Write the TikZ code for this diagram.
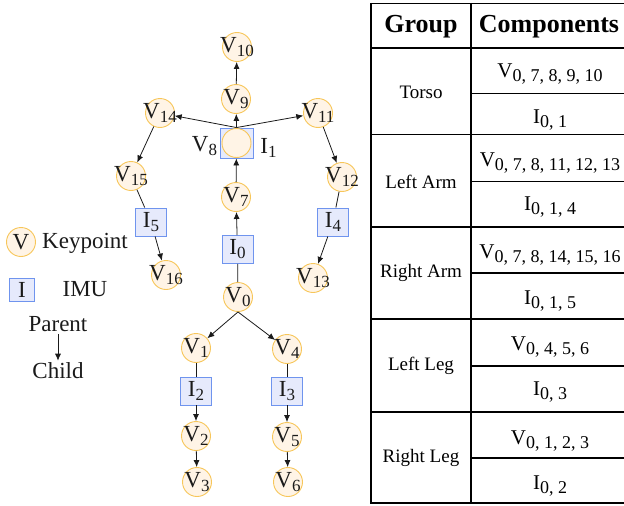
\documentclass[tikz,border=0pt]{standalone}
\usepackage{fontspec}
\setmainfont{Liberation Serif}
\usetikzlibrary{arrows.meta}

\definecolor{kpfill}{HTML}{FFF4E6}
\definecolor{kpline}{HTML}{F7C65A}
\definecolor{imufill}{HTML}{E6EAFC}
\definecolor{imuline}{HTML}{6F94EE}
\definecolor{inkline}{HTML}{1A1A1A}

% lowered index for node labels and table entries
\newcommand\lsub[1]{\raisebox{-4pt}{\fontsize{17}{17}\selectfont #1}}
\newcommand\tsub[1]{\raisebox{-4pt}{\fontsize{18}{18}\selectfont #1}}

\begin{document}
\begin{tikzpicture}[x=1pt,y=-1pt,
  kp/.style={circle, draw=kpline, fill=kpfill, line width=0.9pt,
    minimum size=29pt, inner sep=0pt},
  kplab/.style={font=\fontsize{23}{23}\selectfont, inner sep=0pt, text=inkline},
  imu/.style={rectangle, draw=imuline, fill=imufill, line width=0.9pt,
    minimum width=31pt, minimum height=28pt, inner sep=0pt,
    font=\fontsize{23}{23}\selectfont, text=inkline},
  txt/.style={font=\fontsize{23}{23}\selectfont, inner sep=2pt, text=inkline},
  arr/.style={draw=inkline, line width=0.8pt, -{Latex[length=7pt,width=6pt]}},
  link/.style={draw=inkline, line width=0.8pt},
  tab/.style={line width=1.3pt, draw=black},
  thead/.style={font=\fontsize{26}{26}\selectfont\bfseries, inner sep=0pt},
  tgroup/.style={font=\fontsize{19}{19}\selectfont, inner sep=0pt},
  tcell/.style={font=\fontsize{21}{21}\selectfont, inner sep=0pt}
]
\useasboundingbox (0,0) rectangle (624,506);

% ---------- skeleton: keypoints ----------
\node[kp, label={[kplab]center:V\lsub{10}}] (v10) at (237,47) {};
\node[kp, label={[kplab]center:V\lsub{9}}]  (v9)  at (236,99) {};
\node[kp, label={[kplab]center:V\lsub{14}}] (v14) at (160,113) {};
\node[kp, label={[kplab]center:V\lsub{11}}] (v11) at (318,113) {};
\node[kp, label={[kplab]center:V\lsub{15}}] (v15) at (131,176) {};
\node[kp, label={[kplab]center:V\lsub{12}}] (v12) at (342,177) {};
\node[kp, label={[kplab]center:V\lsub{7}}]  (v7)  at (236,197) {};
\node[kp, label={[kplab]center:V\lsub{16}}] (v16) at (166,275) {};
\node[kp, label={[kplab]center:V\lsub{13}}] (v13) at (313,278) {};
\node[kp, label={[kplab]center:V\lsub{0}}]  (v0)  at (238,297) {};
\node[kp, label={[kplab]center:V\lsub{1}}]  (v1)  at (196,348) {};
\node[kp, label={[kplab]center:V\lsub{4}}]  (v4)  at (287,349) {};
\node[kp, label={[kplab]center:V\lsub{2}}]  (v2)  at (196,436) {};
\node[kp, label={[kplab]center:V\lsub{5}}]  (v5)  at (287,437) {};
\node[kp, label={[kplab]center:V\lsub{3}}]  (v3)  at (197,482) {};
\node[kp, label={[kplab]center:V\lsub{6}}]  (v6)  at (288,482) {};

% chest: keypoint 8 sitting on IMU 1
\node[imu, minimum width=33pt, minimum height=30pt] (v8box) at (236.5,143) {};
\node[kp] (v8) at (v8box) {};
\node[kplab] (v8lab) at (204.5,146) {V\lsub{8}};
\node[kplab] (i1lab) at (268.5,147.5) {I\lsub{1}};

% ---------- skeleton: IMUs ----------
\node[imu] (i5) at (151,222) {I\lsub{5}};
\node[imu] (i4) at (333,222) {I\lsub{4}};
\node[imu] (i0) at (237.5,249.5) {I\lsub{0}};
\node[imu] (i2) at (196,391) {I\lsub{2}};
\node[imu] (i3) at (287,391) {I\lsub{3}};

% ---------- skeleton: parent -> child links ----------
\draw[arr] (v9) -- (v10);
\draw[arr] (v8box.north) -- (v9);
\draw[arr] (v8box.north) -- (v14);
\draw[arr] (v8box.north) -- (v11);
\draw[arr] (v7) -- (v8box);
\draw[arr] (i0) -- (v7);
\draw[link] (v0) -- (i0);
\draw[arr] (v0.south) -- (v1);
\draw[arr] (v0.south) -- (v4);
\draw[arr] (v14) -- (v15);
\draw[link] (v15) -- (i5);
\draw[arr] (i5) -- (v16);
\draw[arr] (v11) -- (v12);
\draw[link] (v12) -- (i4);
\draw[arr] (i4) -- (v13);
\draw[link] (v1) -- (i2);
\draw[arr] (i2) -- (v2);
\draw[arr] (v2) -- (v3);
\draw[link] (v4) -- (i3);
\draw[arr] (i3) -- (v5);
\draw[arr] (v5) -- (v6);

% ---------- legend ----------
\node[kp, label={[kplab]center:V}] (legv) at (21,242) {};
\node[txt] (legvt) at (85,243) {Keypoint};
\node[imu, minimum width=25pt, minimum height=23pt] (legi) at (22,290) {I};
\node[txt] (legit) at (85,289.5) {IMU};
\node[txt] (par) at (58,324) {Parent};
\node[txt] (chi) at (58,371) {Child};
\draw[arr] (par) -- (chi);

% ---------- table ----------
\draw[tab] (371,3.5) -- (624,3.5);
\draw[tab] (371,48) -- (624,48);
\draw[tab] (371,134.5) -- (624,134.5);
\draw[tab] (371,227) -- (624,227);
\draw[tab] (371,319) -- (624,319);
\draw[tab] (371,412) -- (624,412);
\draw[tab] (371,503) -- (624,503);
\draw[tab] (471,93.5) -- (624,93.5);
\draw[tab] (471,181.5) -- (624,181.5);
\draw[tab] (471,273) -- (624,273);
\draw[tab] (471,366) -- (624,366);
\draw[tab] (471,458) -- (624,458);
\draw[tab] (371,2.85) -- (371,503.65);
\draw[tab] (471,2.85) -- (471,503.65);

\node[thead] (hgroup) at (421,27) {Group};
\node[thead] (hcomp) at (549,27) {Components};

\node[tgroup] (gtorso) at (421,92) {Torso};
\node[tgroup] (glarm) at (421,182) {Left Arm};
\node[tgroup] (grarm) at (421,273) {Right Arm};
\node[tgroup] (glleg) at (421,366) {Left Leg};
\node[tgroup] (grleg) at (421,458) {Right Leg};

\node[tcell] (cv1) at (550,74) {V\tsub{0, 7, 8, 9, 10}};
\node[tcell] (ci1) at (550,120) {I\tsub{0, 1}};
\node[tcell] (cv2) at (550,163) {V\tsub{0, 7, 8, 11, 12, 13}};
\node[tcell] (ci2) at (550,207) {I\tsub{0, 1, 4}};
\node[tcell] (cv3) at (550,255) {V\tsub{0, 7, 8, 14, 15, 16}};
\node[tcell] (ci3) at (550,301) {I\tsub{0, 1, 5}};
\node[tcell] (cv4) at (550,347) {V\tsub{0, 4, 5, 6}};
\node[tcell] (ci4) at (550,392) {I\tsub{0, 3}};
\node[tcell] (cv5) at (550,441) {V\tsub{0, 1, 2, 3}};
\node[tcell] (ci5) at (550,486) {I\tsub{0, 2}};
\end{tikzpicture}
\end{document}
